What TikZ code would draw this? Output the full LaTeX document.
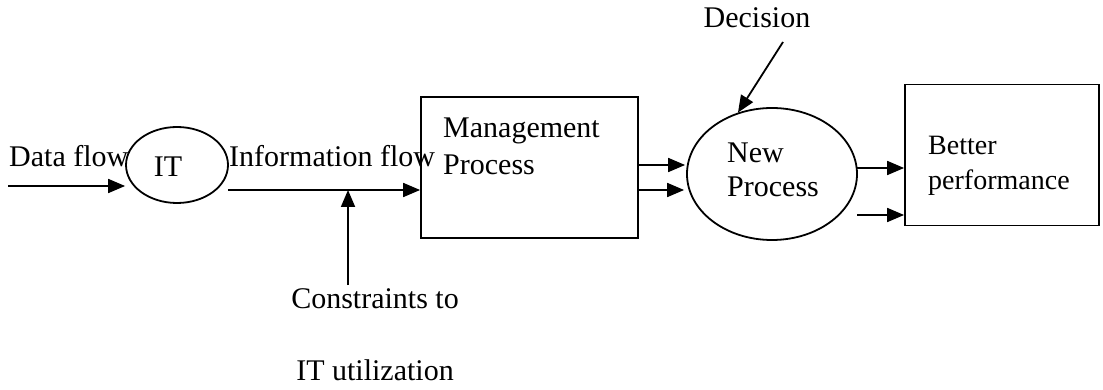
\documentclass[tikz,border=0pt]{standalone}
\usepackage{fontspec}
\setmainfont{Liberation Serif}
\usetikzlibrary{shapes.geometric,arrows.meta,calc}
\begin{document}
\begin{tikzpicture}[x=1pt,y=-1pt,
  every node/.style={font=\fontsize{30}{36}\selectfont},
  arr/.style={line width=1.8pt,-{Triangle[length=17pt,width=14pt]}},
  oval/.style={draw,ellipse,line width=1.8pt,inner sep=0pt},
  box/.style={draw,rectangle,line width=1.8pt,inner sep=0pt},
  txt/.style={inner sep=0pt,anchor=base west},
  small/.style={font=\fontsize{28}{34}\selectfont}]
\useasboundingbox (0,0) rectangle (1103,390);
% shapes
\node[oval,minimum width=102pt,minimum height=76pt] (IT) at (177,165) {};
\node[txt,anchor=base] (ITt) at (168,177) {IT};
\node[box,minimum width=217pt,minimum height=141pt] (MP) at (529.5,167.5) {};
\node[oval,minimum width=170pt,minimum height=132pt] (NP) at (772,174) {};
\node[box,minimum width=194pt,minimum height=141pt] (BP) at (1002,155) {};
% texts
\node[txt] (df) at (9,167) {Data flow};
\node[txt] (inf) at (229,167) {Information flow};
\node[txt] (mp1) at (443,138) {Management};
\node[txt] (mp2) at (443,175) {Process};
\node[txt] (np1) at (727,163) {New};
\node[txt] (np2) at (727,197) {Process};
\node[txt,small] (bp1) at (928,155) {Better};
\node[txt,small] (bp2) at (928,190) {performance};
\node[txt,anchor=base] (dec) at (757,28) {Decision};
\node[txt,anchor=base] (c1) at (375,308) {Constraints to};
\node[txt,anchor=base] (c2) at (375,380) {IT utilization};
% connectors
\coordinate (dstart) at (8,186);
\draw[arr] (dstart) -- (IT.west |- dstart);
\coordinate (ifl) at (228,190);
\draw[arr] (ifl) -- (MP.west |- ifl);
\coordinate (cb) at (348,285);
\draw[arr] (cb) -- (cb |- ifl);
\coordinate (m1) at (638,165);
\coordinate (m2) at (638,190);
\draw[arr] (m1) -- ($(NP.west |- m1)+(-1,0)$);
\draw[arr] (m2) -- ($(NP.west |- m2)+(-2,0)$);
\coordinate (n1) at (857,168);
\coordinate (n2) at (857,215);
\draw[arr] (n1) -- (BP.west |- n1);
\draw[arr] (n2) -- (BP.west |- n2);
\coordinate (ds) at (783,42);
\draw[arr] (ds) -- (NP.119);
\end{tikzpicture}
\end{document}
